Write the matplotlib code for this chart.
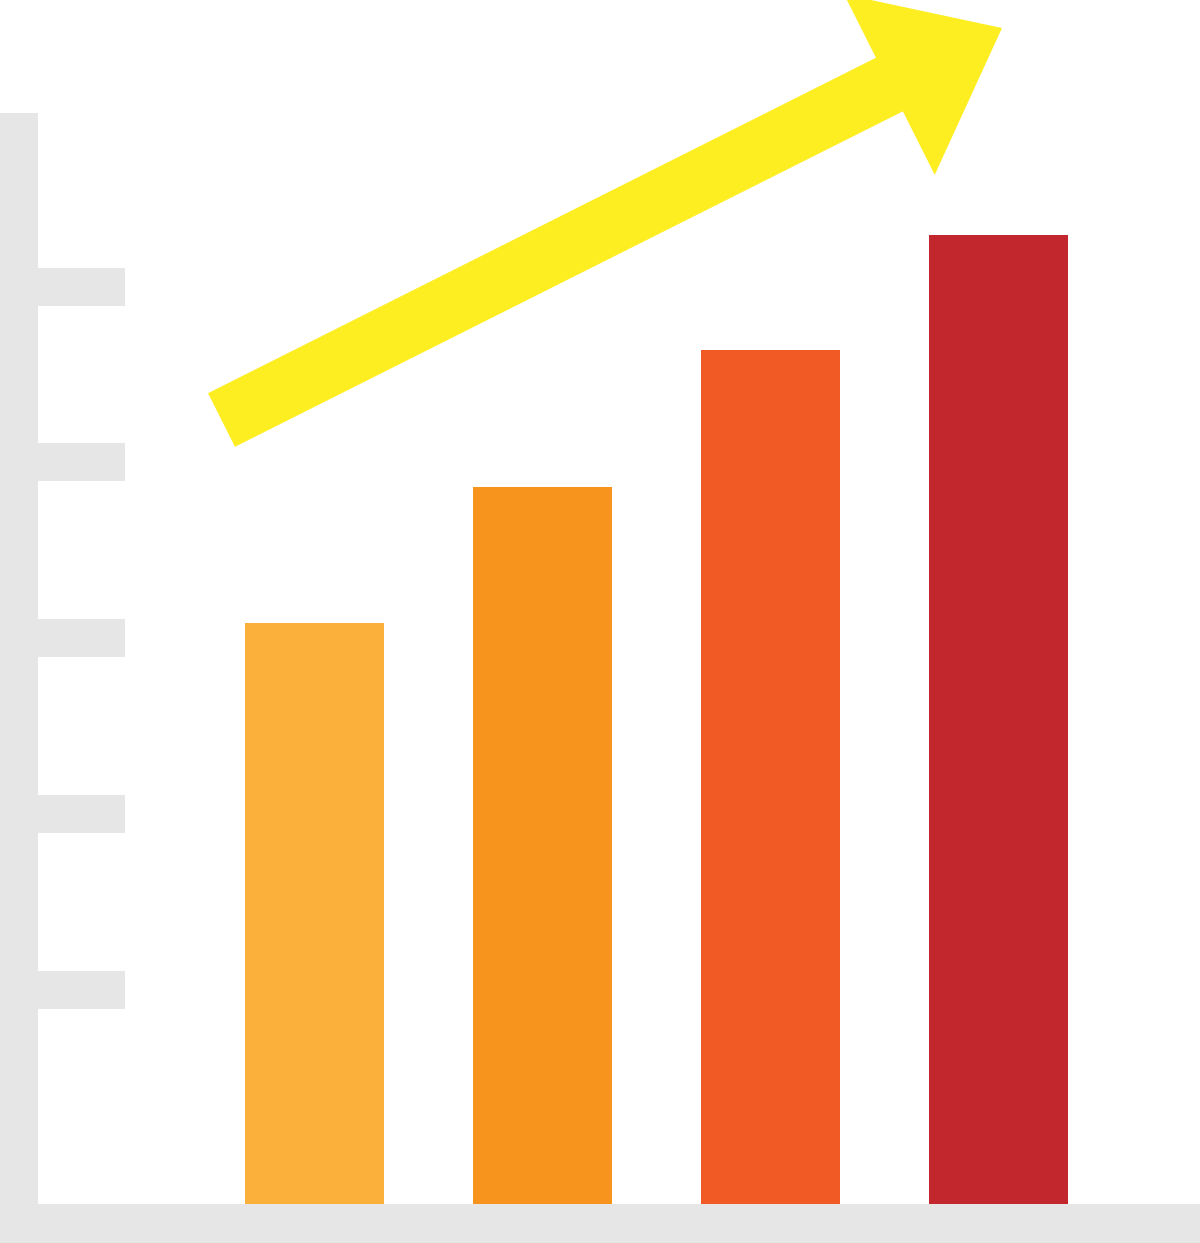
import numpy as np
import matplotlib
matplotlib.use("Agg")
import matplotlib.pyplot as plt
from matplotlib.patches import Rectangle

# bar heights (pixel units above the baseline)
categories = ["A", "B", "C", "D"]
values = [581, 717, 854, 969]
colors = ["#FBB03B", "#F7941E", "#F15A24", "#C1272D"]
tick_levels = [214, 390, 566, 742, 917]

gray = "#E6E6E6"
yellow = "#FCEE21"

fig = plt.figure(figsize=(12, 12.43), dpi=100)
ax = fig.add_axes([0, 0, 1, 1])
ax.set_xlim(0, 1200)
ax.set_ylim(-39, 1204)
ax.axis("off")

# axis frame
ax.add_patch(Rectangle((0, -39), 1200, 39, color=gray, lw=0))
ax.add_patch(Rectangle((0, -39), 38, 1130, color=gray, lw=0))
for t in tick_levels:
    ax.add_patch(Rectangle((38, t - 19), 87, 38, color=gray, lw=0))

# bars
xpos = 314.5 + 228 * np.arange(len(categories))
ax.bar(xpos, values, width=139.5, color=colors, linewidth=0)

# trend arrow
ax.arrow(221.5, 784, 780.5, 392, width=60, head_width=202, head_length=126,
         length_includes_head=True, color=yellow, lw=0)

fig.savefig("out.png", dpi=100)
